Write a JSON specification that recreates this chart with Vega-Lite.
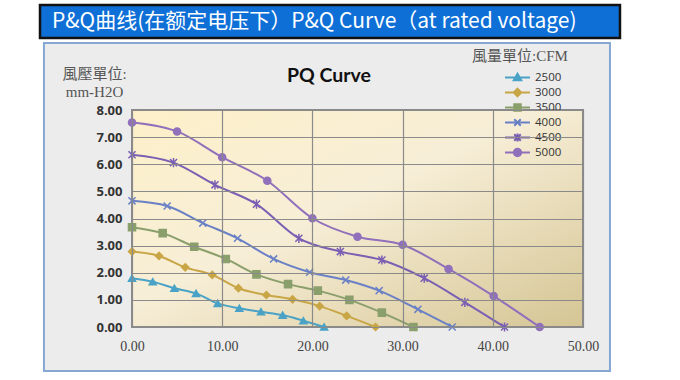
{
  "$schema": "https://vega.github.io/schema/vega-lite/v6.json",
  "width": 451,
  "height": 217,
  "autosize": {"type": "none"},
  "padding": {"left": 132, "top": 110, "right": 97, "bottom": 53},
  "background": "white",
  "data": {"values": [
    {"cfm": "2500", "q": 0, "p": 1.80}, {"cfm": "2500", "q": 2.3, "p": 1.67}, {"cfm": "2500", "q": 4.7, "p": 1.43}, {"cfm": "2500", "q": 7.1, "p": 1.24}, {"cfm": "2500", "q": 9.5, "p": 0.87},
    {"cfm": "2500", "q": 11.9, "p": 0.69}, {"cfm": "2500", "q": 14.3, "p": 0.56}, {"cfm": "2500", "q": 16.7, "p": 0.44}, {"cfm": "2500", "q": 19.0, "p": 0.23}, {"cfm": "2500", "q": 21.3, "p": 0},
    {"cfm": "3000", "q": 0, "p": 2.78}, {"cfm": "3000", "q": 3.0, "p": 2.62}, {"cfm": "3000", "q": 5.9, "p": 2.20}, {"cfm": "3000", "q": 8.9, "p": 1.92}, {"cfm": "3000", "q": 11.8, "p": 1.43},
    {"cfm": "3000", "q": 14.9, "p": 1.18}, {"cfm": "3000", "q": 17.8, "p": 1.02}, {"cfm": "3000", "q": 20.8, "p": 0.77}, {"cfm": "3000", "q": 23.8, "p": 0.41}, {"cfm": "3000", "q": 27.0, "p": 0},
    {"cfm": "3500", "q": 0, "p": 3.68}, {"cfm": "3500", "q": 3.4, "p": 3.46}, {"cfm": "3500", "q": 6.9, "p": 2.96}, {"cfm": "3500", "q": 10.4, "p": 2.51}, {"cfm": "3500", "q": 13.8, "p": 1.94},
    {"cfm": "3500", "q": 17.3, "p": 1.58}, {"cfm": "3500", "q": 20.6, "p": 1.34}, {"cfm": "3500", "q": 24.1, "p": 1.00}, {"cfm": "3500", "q": 27.7, "p": 0.53}, {"cfm": "3500", "q": 31.2, "p": 0},
    {"cfm": "4000", "q": 0, "p": 4.65}, {"cfm": "4000", "q": 3.9, "p": 4.46}, {"cfm": "4000", "q": 7.85, "p": 3.83}, {"cfm": "4000", "q": 11.7, "p": 3.27}, {"cfm": "4000", "q": 15.7, "p": 2.51},
    {"cfm": "4000", "q": 19.7, "p": 2.02}, {"cfm": "4000", "q": 23.7, "p": 1.73}, {"cfm": "4000", "q": 27.4, "p": 1.34}, {"cfm": "4000", "q": 31.7, "p": 0.65}, {"cfm": "4000", "q": 35.5, "p": 0},
    {"cfm": "4500", "q": 0, "p": 6.35}, {"cfm": "4500", "q": 4.6, "p": 6.06}, {"cfm": "4500", "q": 9.2, "p": 5.24}, {"cfm": "4500", "q": 13.8, "p": 4.53}, {"cfm": "4500", "q": 18.5, "p": 3.27},
    {"cfm": "4500", "q": 23.1, "p": 2.78}, {"cfm": "4500", "q": 27.7, "p": 2.47}, {"cfm": "4500", "q": 32.4, "p": 1.80}, {"cfm": "4500", "q": 36.9, "p": 0.91}, {"cfm": "4500", "q": 41.3, "p": 0},
    {"cfm": "5000", "q": 0, "p": 7.54}, {"cfm": "5000", "q": 5.0, "p": 7.21}, {"cfm": "5000", "q": 10.0, "p": 6.26}, {"cfm": "5000", "q": 15.0, "p": 5.39}, {"cfm": "5000", "q": 20.0, "p": 4.01},
    {"cfm": "5000", "q": 25.0, "p": 3.33}, {"cfm": "5000", "q": 30.0, "p": 3.03}, {"cfm": "5000", "q": 35.1, "p": 2.14}, {"cfm": "5000", "q": 40.1, "p": 1.14}, {"cfm": "5000", "q": 45.2, "p": 0}
  ]},
  "layer": [
    {
      "data": {"values": [{}]},
      "mark": {"type": "rect", "fill": "#ececec", "stroke": "#86a6d4", "strokeWidth": 2, "zindex": 0},
      "encoding": {
        "x": {"datum": -9.76, "type": "quantitative", "scale": {"domain": [0, 50], "nice": false}},
        "x2": {"datum": 52.99},
        "y": {"datum": 10.47, "type": "quantitative", "scale": {"domain": [0, 8], "nice": false}},
        "y2": {"datum": -1.62}
      }
    },
    {
      "data": {"values": [{}]},
      "mark": {"type": "rect", "fill": "#0e6fd7", "stroke": "#111111", "strokeWidth": 2.5, "zindex": 0},
      "encoding": {
        "x": {"datum": -10.2, "type": "quantitative", "scale": {"domain": [0, 50], "nice": false}},
        "x2": {"datum": 54.1},
        "y": {"datum": 11.87, "type": "quantitative", "scale": {"domain": [0, 8], "nice": false}},
        "y2": {"datum": 10.65}
      }
    },
    {
      "data": {"values": [{"t": "P&Q曲线(在额定电压下）P&Q Curve（at rated voltage)"}]},
      "mark": {"type": "text", "align": "left", "baseline": "middle", "font": "Noto Sans CJK SC", "fontSize": 21, "color": "#ffffff", "zindex": 0},
      "encoding": {
        "x": {"datum": -8.87, "type": "quantitative", "scale": {"domain": [0, 50], "nice": false}},
        "y": {"datum": 11.26, "type": "quantitative", "scale": {"domain": [0, 8], "nice": false}},
        "text": {"field": "t"}
      }
    },
    {
      "data": {"values": [{"t": "PQ Curve"}]},
      "mark": {"type": "text", "align": "center", "baseline": "middle", "font": "Lato", "fontSize": 19.5, "fontWeight": "bold", "color": "#111111", "zindex": 0},
      "encoding": {
        "x": {"datum": 21.84, "type": "quantitative", "scale": {"domain": [0, 50], "nice": false}},
        "y": {"datum": 9.25, "type": "quantitative", "scale": {"domain": [0, 8], "nice": false}},
        "text": {"field": "t"}
      }
    },
    {
      "data": {"values": [{}]},
      "mark": {"type": "rect", "stroke": "#8a8a8a", "strokeWidth": 2, "zindex": 0,
        "fill": {"gradient": "linear", "x1": 0, "y1": 0, "x2": 1, "y2": 1,
          "stops": [{"offset": 0, "color": "#fdf0c9"}, {"offset": 0.45, "color": "#f7eed7"}, {"offset": 1, "color": "#d5c594"}]}},
      "encoding": {
        "x": {"datum": 0, "type": "quantitative", "scale": {"domain": [0, 50], "nice": false}},
        "x2": {"datum": 50},
        "y": {"datum": 0, "type": "quantitative", "scale": {"domain": [0, 8], "nice": false}},
        "y2": {"datum": 8}
      }
    },
    {
      "mark": {"type": "line", "interpolate": "monotone", "strokeWidth": 2, "zindex": 2},
      "encoding": {
        "x": {"field": "q", "type": "quantitative", "scale": {"domain": [0, 50], "nice": false},
          "axis": {"zindex": 1, "title": null, "values": [0, 10, 20, 30, 40, 50], "tickCount": 50, "format": ".2f", "labelFlush": false, "labelOverlap": false,
            "labelFont": "Liberation Serif", "labelFontSize": 14, "labelColor": "#444444", "labelPadding": 12}},
        "y": {"field": "p", "type": "quantitative", "scale": {"domain": [0, 8], "nice": false},
          "axis": {"zindex": 1, "title": ["風壓單位:", "mm-H2O"], "values": [0, 1, 2, 3, 4, 5, 6, 7, 8], "tickCount": 50, "format": ".2f", "labelFlush": false, "labelOverlap": false,
            "labelFont": "Open Sans", "labelFontWeight": "bold", "labelFontSize": 13, "labelColor": "#333333", "labelPadding": 10,
            "titleAngle": 0, "titleAlign": "center", "titleBaseline": "top", "titleX": -38, "titleY": -44,
            "titleFont": "Liberation Serif, Noto Sans CJK TC", "titleFontSize": 15, "titleFontWeight": "normal", "titleColor": "#555555", "titleLineHeight": 18.5}},
        "color": {"field": "cfm", "type": "nominal",
          "scale": {"domain": ["2500", "3000", "3500", "4000", "4500", "5000"], "range": ["#4aa3c6", "#c8a646", "#8a9f6c", "#6a80c6", "#7a5fb3", "#9170bb"]},
          "legend": {"orient": "none", "legendX": 340, "legendY": -61, "title": "風量單位:CFM", "symbolSize": 625, "symbolStrokeWidth": 2, "symbolOffset": 32, "labelOffset": 4,
            "encode": {"symbols": {"update": {
              "shape": {"signal": "datum.value == '2500' ? 'M-1,0L1,0M0,-0.3L0.3,0.22L-0.3,0.22Z' : datum.value == '3000' ? 'M-1,0L1,0M0,-0.3L0.3,0L0,0.3L-0.3,0Z' : datum.value == '3500' ? 'M-1,0L1,0M-0.26,-0.26L0.26,-0.26L0.26,0.26L-0.26,0.26Z' : datum.value == '4000' ? 'M-1,0L1,0M-0.26,-0.26L0.26,0.26M-0.26,0.26L0.26,-0.26' : datum.value == '4500' ? 'M-1,0L1,0M-0.26,-0.26L0.26,0.26M-0.26,0.26L0.26,-0.26M0,-0.32L0,0.32' : 'M-1,0L1,0M0.3,0A0.3,0.3,0,1,1,-0.3,0A0.3,0.3,0,1,1,0.3,0Z'"},
              "fill": {"scale": "color", "field": "value"},
              "stroke": {"scale": "color", "field": "value"},
              "strokeWidth": {"value": 2},
              "opacity": {"value": 1}
            }}}}}
      }
    },
    {
      "mark": {"type": "point", "filled": true, "size": 50, "strokeWidth": 1.5, "opacity": 1, "zindex": 3},
      "encoding": {
        "x": {"field": "q", "type": "quantitative", "scale": {"domain": [0, 50], "nice": false}},
        "y": {"field": "p", "type": "quantitative", "scale": {"domain": [0, 8], "nice": false}},
        "color": {"field": "cfm", "type": "nominal"},
        "stroke": {"field": "cfm", "type": "nominal", "scale": {"range": ["#4aa3c6", "#c8a646", "#8a9f6c", "#6a80c6", "#7a5fb3", "#9170bb"]}, "legend": null},
        "shape": {"field": "cfm", "type": "nominal", "scale": {"range": ["triangle-up", "diamond", "square", "M-1,-1L1,1M-1,1L1,-1", "M-1,-1L1,1M-1,1L1,-1M0,-1.3L0,1.3", "circle"]}, "legend": null}
      }
    }
  ],
  "config": {
    "view": {"stroke": null},
    "axis": {"grid": true, "gridColor": "#8a8a8a", "gridWidth": 1.2, "gridOpacity": 1, "domain": false, "ticks": false},
    "legend": {"padding": 0, "clipHeight": 15, "rowPadding": 0, "titlePadding": 6,
      "titleFont": "Liberation Serif, Noto Sans CJK TC", "titleFontSize": 15, "titleFontWeight": "normal", "titleColor": "#555555",
      "labelFont": "Open Sans", "labelFontSize": 11.5, "labelColor": "#333333", "symbolOpacity": 1}
  }
}
